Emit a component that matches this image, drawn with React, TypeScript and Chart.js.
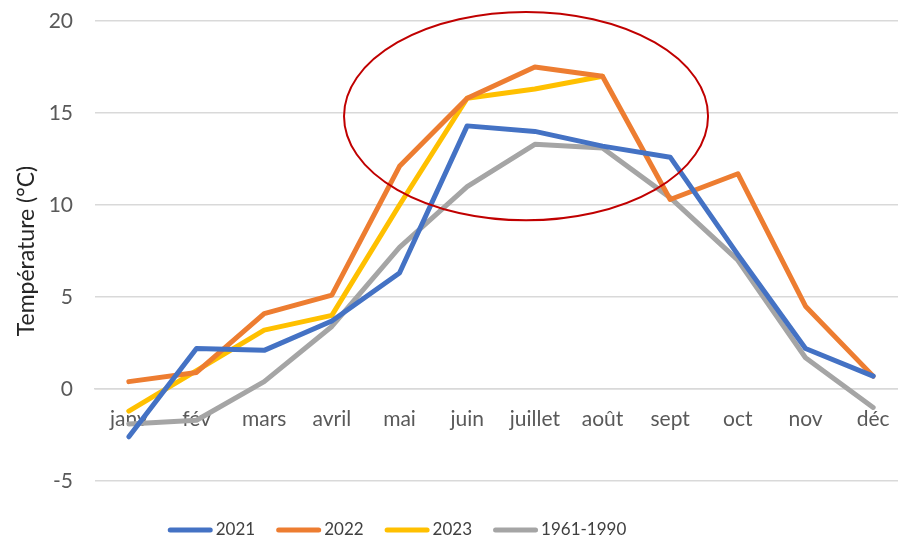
import React, { useEffect, useRef } from "react";
import { Chart, registerables } from "chart.js";

Chart.register(...registerables);

const months = ["janv", "fév", "mars", "avril", "mai", "juin", "juillet", "août", "sept", "oct", "nov", "déc"];
const series2021 = [-2.6, 2.2, 2.1, 3.7, 6.3, 14.3, 14.0, 13.2, 12.6, 7.3, 2.2, 0.7];
const series2022 = [0.4, 0.9, 4.1, 5.1, 12.1, 15.8, 17.5, 17.0, 10.3, 11.7, 4.5, 0.7];
const series2023 = [-1.2, 1.0, 3.2, 4.0, 10.0, 15.8, 16.3, 17.0, null, null, null, null];
const series1961 = [-1.9, -1.7, 0.4, 3.4, 7.7, 11.0, 13.3, 13.1, 10.4, 7.0, 1.7, -1.0];
const seriesLabels = ["2021", "2022", "2023", "1961-1990"];
const seriesColors = ["#4472C4", "#ED7D31", "#FFC000", "#A5A5A5"];
const yTicks = [-5, 0, 5, 10, 15, 20];
// highlight ellipse in data units: centre (category index, °C), radii
const highlight = { cx: 5.87, cy: 14.83, rx: 2.69, ry: 5.66 };

const FONT = "Lato, 'Noto Sans', sans-serif";
const TEXT = "#595959";

const ellipsePlugin = {
  id: "highlightEllipse",
  afterDatasetsDraw(chart: any) {
    const x = chart.scales.x;
    const y = chart.scales.y;
    const cx = x.getPixelForValue(highlight.cx);
    const cy = y.getPixelForValue(highlight.cy);
    const rx = Math.abs(x.getPixelForValue(highlight.cx + highlight.rx) - cx);
    const ry = Math.abs(y.getPixelForValue(highlight.cy + highlight.ry) - cy);
    const ctx = chart.ctx;
    ctx.save();
    ctx.beginPath();
    ctx.ellipse(cx, cy, rx, ry, 0, 0, Math.PI * 2);
    ctx.strokeStyle = "#C00000";
    ctx.lineWidth = 2;
    ctx.stroke();
    ctx.restore();
  },
};

const legendPlugin = {
  id: "customLegend",
  afterDraw(chart: any) {
    const ctx = chart.ctx;
    const lineLen = 45;
    const gapText = 3;
    const gapItem = 21;
    const centerX = 397;
    const yMid = 530;
    ctx.save();
    ctx.font = `17px ${FONT}`;
    const items = chart.data.datasets.map((d: any) => ({
      label: d.label,
      color: d.borderColor,
      w: ctx.measureText(d.label).width,
    }));
    const total = items.reduce((s: number, it: any) => s + lineLen + gapText + it.w, 0) + gapItem * (items.length - 1);
    let xPos = centerX - total / 2;
    items.forEach((it: any) => {
      ctx.beginPath();
      ctx.moveTo(xPos + 2.5, yMid);
      ctx.lineTo(xPos + lineLen - 2.5, yMid);
      ctx.strokeStyle = it.color;
      ctx.lineWidth = 5;
      ctx.lineCap = "round";
      ctx.stroke();
      ctx.fillStyle = "#404040";
      ctx.textBaseline = "middle";
      ctx.textAlign = "left";
      ctx.fillText(it.label, xPos + lineLen + gapText, yMid);
      xPos += lineLen + gapText + it.w + gapItem;
    });
    ctx.restore();
  },
};

export default function App() {
  const canvasRef = useRef<HTMLCanvasElement | null>(null);

  useEffect(() => {
    if (!canvasRef.current) return;
    const allSeries = [series2021, series2022, series2023, series1961];
    const chart = new Chart(canvasRef.current, {
      type: "line",
      data: {
        labels: months,
        datasets: allSeries.map((data, i) => ({
          label: seriesLabels[i],
          data,
          borderColor: seriesColors[i],
          backgroundColor: seriesColors[i],
          borderWidth: 5,
          pointRadius: 0,
          tension: 0,
          fill: false,
          spanGaps: false,
          borderJoinStyle: "round" as const,
          borderCapStyle: "round" as const,
        })),
      },
      options: {
        responsive: false,
        animation: false,
        layout: { padding: { left: 0, right: 3, top: 21, bottom: 60 } },
        plugins: {
          legend: { display: false },
          tooltip: { enabled: false },
        },
        scales: {
          x: {
            type: "category",
            position: { y: 0 } as any,
            offset: true,
            afterFit: (scale: any) => {
              scale.paddingTop = 0;
              scale.paddingBottom = 0;
            },
            grid: { display: false, drawTicks: false },
            border: { display: true, color: "#D9D9D9", width: 1.5 },
            ticks: {
              color: TEXT,
              font: { family: FONT, size: 21 },
              padding: 18,
              maxRotation: 0,
              autoSkip: false,
            },
          },
          y: {
            min: -5,
            max: 20,
            afterBuildTicks: (scale: any) => {
              scale.ticks = yTicks.map((v) => ({ value: v }));
            },
            afterFit: (scale: any) => {
              scale.width = 95;
              scale.paddingTop = 0;
              scale.paddingBottom = 0;
            },
            grid: { color: "#D9D9D9", lineWidth: 1.5, drawTicks: false },
            border: { display: false },
            ticks: {
              color: TEXT,
              font: { family: FONT, size: 21 },
              padding: 22,
            },
            title: {
              display: true,
              text: "Température (°C)",
              color: "#262626",
              font: { family: FONT, size: 23 },
              padding: { top: 13, bottom: 0 },
            },
          },
        },
      },
      plugins: [ellipsePlugin, legendPlugin],
    });
    return () => chart.destroy();
  }, []);

  return (
    <div style={{ position: "absolute", left: 0, top: 0, width: 898, height: 541, overflow: "hidden", background: "#fff" }}>
      <canvas ref={canvasRef} width={910} height={541} style={{ width: 910, height: 541, display: "block" }} />
    </div>
  );
}
